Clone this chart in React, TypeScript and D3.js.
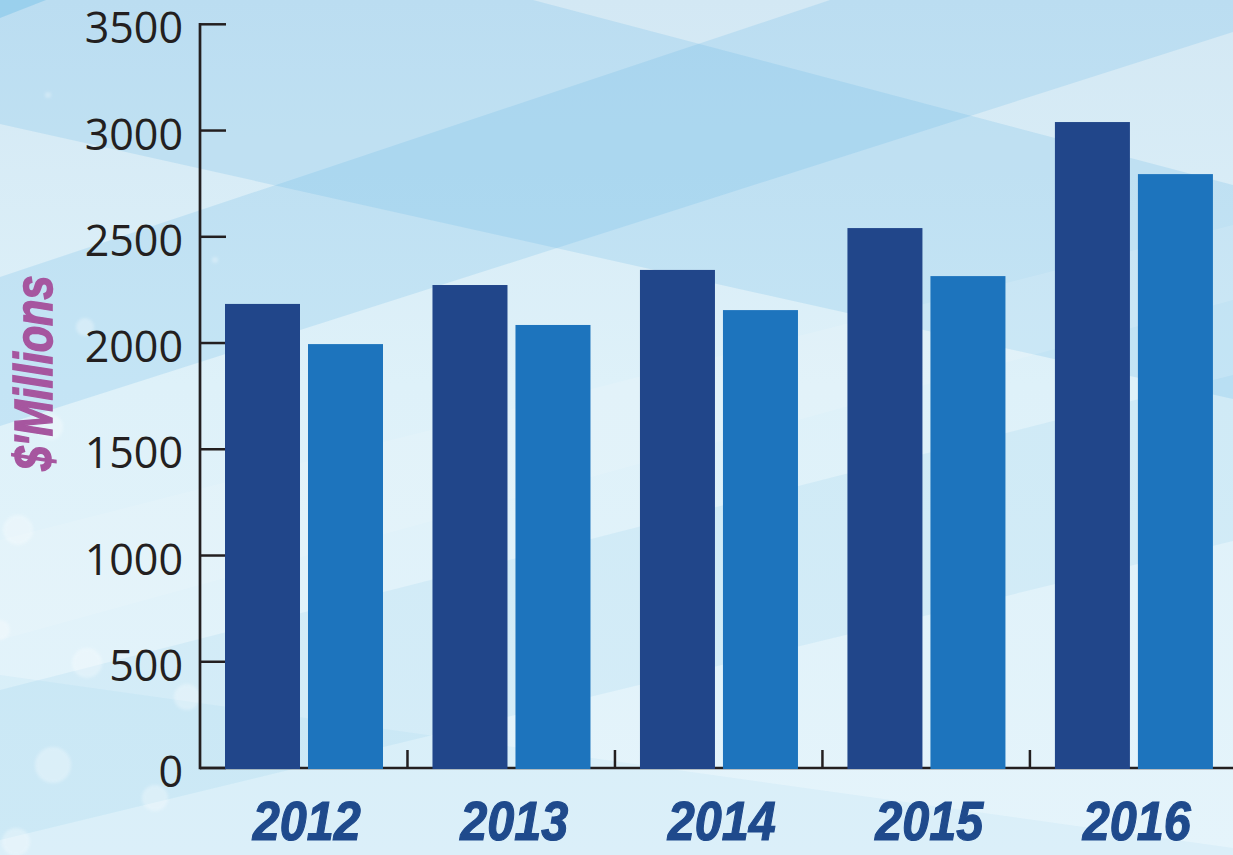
import React from "react";
import * as d3 from "d3";

const years = ["2012", "2013", "2014", "2015", "2016"];
const seriesA = [2184, 2273, 2344, 2541, 3040];
const seriesB = [1995, 2085, 2155, 2315, 2795];
const yTicks = [0, 500, 1000, 1500, 2000, 2500, 3000, 3500];
const seriesKeys = ["a", "b"];

const W = 1233;
const H = 855;

const bands: { pts: [number, number][]; fill: string; op: number }[] = [
  { pts: [[0, 277], [830, 0], [1233, 0], [1233, 32], [0, 426]], fill: "#5fb6e6", op: 0.2 },
  { pts: [[0, 0], [533, 0], [1233, 185], [1233, 399], [0, 124]], fill: "#5fb6e6", op: 0.2 },
  { pts: [[0, 0], [46, 0], [0, 18]], fill: "#5fb6e6", op: 0.35 },
  { pts: [[0, 690], [1233, 375], [1233, 541], [0, 840]], fill: "#6cc0ea", op: 0.12 },
  { pts: [[0, 675], [1233, 848], [1233, 855], [0, 855]], fill: "#6cc0ea", op: 0.08 },
  { pts: [[0, 540], [1233, 225], [1233, 300], [0, 640]], fill: "#ffffff", op: 0.12 },
];

const blobs: [number, number, number][] = [
  [18, 530, 15], [87, 663, 15], [53, 765, 18], [155, 798, 13], [187, 697, 13],
  [50, 427, 13], [0, 630, 10], [85, 327, 9], [16, 842, 14], [48, 95, 3], [215, 260, 3],
];

export default function App() {
  const y = d3.scaleLinear().domain([0, 3500]).range([768, 24.3]);
  const x = d3.scaleBand<string>().domain(years).range([200, 1237.4]).paddingInner(0).paddingOuter(0);
  const x1 = d3.scaleBand<string>().domain(seriesKeys).range([25, 183]).paddingInner(0.0964).paddingOuter(0);
  const colors: Record<string, string> = { a: "#21468a", b: "#1d74bd" };
  const poly = (p: [number, number][]) => p.map((q) => q.join(",")).join(" ");

  return (
    <svg width={W} height={H} style={{ position: "absolute", left: 0, top: 0 }}>
      <defs>
        <linearGradient id="bg" x1="0" y1="0" x2="0" y2="1">
          <stop offset="0" stopColor="#d3e8f4" />
          <stop offset="0.45" stopColor="#def1f9" />
          <stop offset="1" stopColor="#e5f4fb" />
        </linearGradient>
        <filter id="blur" x="-50%" y="-50%" width="200%" height="200%">
          <feGaussianBlur stdDeviation="1.5" />
        </filter>
      </defs>
      <rect x={0} y={0} width={W} height={H} fill="url(#bg)" />
      {bands.map((b, i) => (
        <polygon key={i} points={poly(b.pts)} fill={b.fill} opacity={b.op} />
      ))}
      {blobs.map((b, i) => (
        <circle key={i} cx={b[0]} cy={b[1]} r={b[2]} fill="#ffffff" opacity={0.3} filter="url(#blur)" />
      ))}

      {/* axes */}
      <line x1={200} x2={W} y1={768} y2={768} stroke="#231f20" strokeWidth={2.5} />
      <line x1={200} x2={200} y1={23} y2={769.3} stroke="#231f20" strokeWidth={2.7} />
      {yTicks.map((t) => (
        <g key={t}>
          <line x1={200} x2={226} y1={y(t)} y2={y(t)} stroke="#231f20" strokeWidth={2.5} />
          <text
            x={183}
            y={y(t) + 19}
            textAnchor="end"
            fontFamily="'Open Sans', 'Noto Sans', sans-serif"
            fontSize={43}
            fill="#231f20"
          >
            {t}
          </text>
        </g>
      ))}
      {years.slice(1).map((yr) => (
        <line key={yr} x1={x(yr)!} x2={x(yr)!} y1={768} y2={750} stroke="#231f20" strokeWidth={2.5} />
      ))}

      {/* bars */}
      {years.map((yr, i) => (
        <g key={yr} transform={`translate(${x(yr)},0)`}>
          {seriesKeys.map((k) => {
            const v = k === "a" ? seriesA[i] : seriesB[i];
            return (
              <rect
                key={k}
                x={x1(k)!}
                y={y(v)}
                width={x1.bandwidth()}
                height={y(0) - y(v) + 1}
                fill={colors[k]}
              />
            );
          })}
        </g>
      ))}

      {/* x labels */}
      {years.map((yr) => (
        <text
          key={yr}
          x={x(yr)! + x.bandwidth() / 2 + 3}
          y={840}
          textAnchor="middle"
          fontFamily="'Liberation Sans', Arial, sans-serif"
          fontWeight="bold"
          fontStyle="italic"
          fontSize={55}
          fill="#1f4a8c"
          stroke="#1f4a8c"
          strokeWidth={1.2}
          textLength={108}
          lengthAdjust="spacingAndGlyphs"
        >
          {yr}
        </text>
      ))}

      {/* y label */}
      <text
        transform="translate(52,373) rotate(-90)"
        textAnchor="middle"
        fontFamily="'Liberation Sans', Arial, sans-serif"
        fontWeight="bold"
        fontStyle="italic"
        fontSize={54}
        fill="#a6569f"
        stroke="#a6569f"
        strokeWidth={1.6}
        textLength={195}
        lengthAdjust="spacingAndGlyphs"
      >
        $'Millions
      </text>
    </svg>
  );
}
